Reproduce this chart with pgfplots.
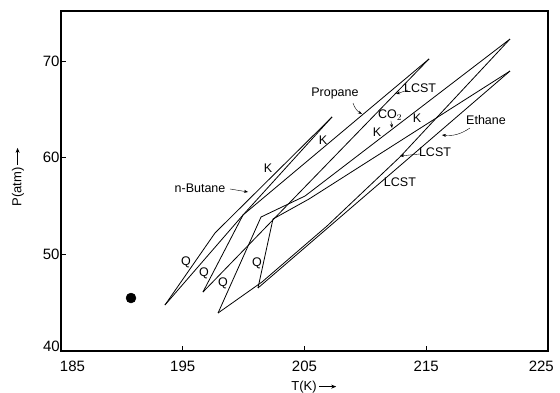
\documentclass[border=0pt]{standalone}
\usepackage{pgfplots}
\pgfplotsset{compat=1.18}
\usetikzlibrary{arrows.meta}
\usepackage{fontspec}
\setmainfont{Liberation Sans}
\newcommand{\rarr}{\tikz[baseline=-0.55ex]\draw[-{Stealth[length=5pt,width=4pt]},line width=0.8pt] (0,0)--(17pt,0);}
\pgfplotsset{locus/.style={black, no markers, solid, line width=0.8pt}}
\begin{document}
\begin{tikzpicture}
\path[use as bounding box] (-61pt,-41pt) rectangle (499pt,351pt);
\begin{axis}[
  scale only axis, width=487pt, height=340pt,
  xmin=185, xmax=225, ymin=40, ymax=75.17,
  xtick={195,205,215}, ytick={50,60,70},
  tick pos=left, tick align=inside, major tick length=5pt,
  axis line style={line width=1.6pt},
  every tick/.style={black, line width=0.8pt},
  /pgf/number format/assume math mode=true,
  ticklabel style={font=\fontsize{15}{15}\selectfont},
  xticklabel style={yshift=-6pt},
  yticklabel style={xshift=2pt},
  xlabel={T(K)\,\rarr},
  ylabel={P(atm)\,\rarr},
  every axis x label/.style={at={(axis description cs:0.5195,-0.106)}, anchor=center},
  every axis y label/.style={at={(axis description cs:-0.0883,0.512)}, rotate=90, anchor=center},
  label style={font=\fontsize{13}{13}\selectfont},
  clip=false,
]
% corner tick labels
\node[font=\fontsize{15}{15}\selectfont, anchor=east, inner sep=1pt] at (axis cs:185,40.5) {40};
\node[font=\fontsize{15}{15}\selectfont, anchor=north west, inner sep=0pt] at (axis cs:184.9,39.0) {185};
\node[font=\fontsize{15}{15}\selectfont, anchor=north, inner sep=0pt] at (axis cs:224.45,39.0) {225};
% methane critical point
\addplot[black, only marks, mark=*, mark size=5pt] coordinates {(190.75,45.48)};
% n-Butane: Q locus + K locus, LCST locus
\addplot[locus] coordinates {(193.54,44.76) (197.65,52.21) (207.26,64.21)};
\addplot[locus] coordinates {(193.54,44.76) (199.95,54.07) (207.26,64.21)};
% Propane
\addplot[locus] coordinates {(196.66,46.10) (199.95,54.07) (215.23,70.21)};
\addplot[locus] coordinates {(196.66,46.10) (215.23,70.21)};
% CO2
\addplot[locus] coordinates {(197.90,43.93) (201.43,53.86) (205.04,56.03) (221.88,72.27)};
\addplot[locus] coordinates {(197.90,43.93) (201.51,47.14) (206.85,52.93) (212.84,60.07) (221.88,72.27)};
% Ethane
\addplot[locus] coordinates {(201.18,46.52) (202.41,53.65) (205.37,55.72) (221.88,68.96)};
\addplot[locus] coordinates {(201.18,46.52) (221.88,68.96)};
% labels
\begin{scope}[every node/.style={font=\fontsize{12.5}{12.5}\selectfont, inner sep=0pt}]
\node at (axis cs:207.50,66.59) {Propane};
\draw[-{Stealth[length=4pt,width=3pt]}] (axis cs:208.98,65.65) to[bend right=20] (axis cs:209.72,64.52);
\node at (axis cs:214.49,67.21) {LCST};
\draw[-{Stealth[length=4pt,width=3pt]}] (axis cs:213.50,67.00) -- (axis cs:212.52,66.59);
\node at (axis cs:212.02,64.41) {CO$_2$};
\draw[-{Stealth[length=4pt,width=3pt]}] (axis cs:212.10,63.80) -- (axis cs:212.19,63.07);
\node at (axis cs:210.96,62.65) {K};
\node at (axis cs:214.24,64.10) {K};
\node at (axis cs:219.91,63.90) {Ethane};
\draw[-{Stealth[length=4pt,width=3pt]}] (axis cs:218.59,63.07) to[bend left=20] (axis cs:216.29,62.34);
\node at (axis cs:215.72,60.59) {LCST};
\draw[-{Stealth[length=4pt,width=3pt]}] (axis cs:214.49,60.38) -- (axis cs:212.84,60.17);
\node at (axis cs:212.84,57.48) {LCST};
\node at (axis cs:202.00,58.93) {K};
\node at (axis cs:206.52,61.83) {K};
\node at (axis cs:196.42,56.86) {n-Butane};
\draw[-{Stealth[length=4pt,width=3pt]}] (axis cs:198.88,56.76) -- (axis cs:200.36,56.45);
\node at (axis cs:195.27,49.21) {Q};
\node at (axis cs:196.75,48.07) {Q};
\node at (axis cs:198.31,47.03) {Q};
\node at (axis cs:201.10,49.10) {Q};
\end{scope}
\end{axis}
\end{tikzpicture}
\end{document}
